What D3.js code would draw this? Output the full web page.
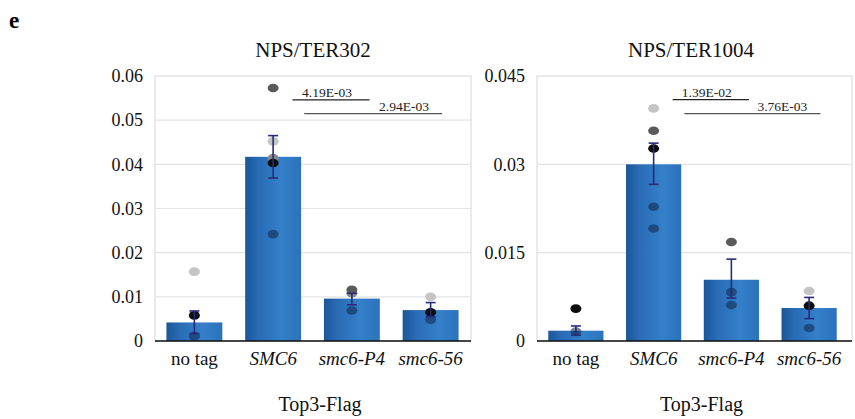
<!DOCTYPE html>
<html>
<head>
<meta charset="utf-8">
<script src="https://cdn.jsdelivr.net/npm/d3@7"></script>
<style>
  body { margin: 0; background: #fff; }
  svg { display: block; }
  svg text { font-family: "Liberation Serif", "Times New Roman", Times, "DejaVu Serif", serif !important; }
</style>
</head>
<body>
<div id="chart"></div>
<script>
// Categories shared by both panels
const categories = ["no tag", "SMC6", "smc6-P4", "smc6-56"];
const italicCats = ["SMC6", "smc6-P4", "smc6-56"];

// NPS/TER302
const ter302Ticks = [0, 0.01, 0.02, 0.03, 0.04, 0.05, 0.06];
const ter302Tick = ["0", "0.01", "0.02", "0.03", "0.04", "0.05", "0.06"];
const ter302Mean = [0.0042, 0.0417, 0.0096, 0.0070];
const ter302ErrLow = [0.0017, 0.0369, 0.0082, 0.0055];
const ter302ErrHigh = [0.0068, 0.0465, 0.0108, 0.0087];
const ter302Points = [
    [0.0157, 0.0058, 0.0011],
    [0.0452, 0.0414, 0.0573, 0.0403, 0.0242],
    [0.0108, 0.0116, 0.0069],
    [0.0100, 0.0065, 0.0048]
];
const ter302Rep = [[0, 3, 4], [0, 1, 2, 3, 4], [1, 2, 4], [0, 3, 4]];
const ter302Pvals = ["4.19E-03", "2.94E-03"];
const ter302PvalY = [0.0546, 0.0515];

// NPS/TER1004
const ter1004Ticks = [0, 0.015, 0.03, 0.045];
const ter1004Tick = ["0", "0.015", "0.03", "0.045"];
const ter1004Mean = [0.00175, 0.0300, 0.0104, 0.0056];
const ter1004ErrLow = [0.00097, 0.0266, 0.0073, 0.0038];
const ter1004ErrHigh = [0.00255, 0.0336, 0.0139, 0.0074];
const ter1004Points = [
    [0.0055, 0.0016],
    [0.0395, 0.0357, 0.0327, 0.0228, 0.0191],
    [0.0168, 0.0083, 0.0061],
    [0.0085, 0.0060, 0.0022]
];
const ter1004Rep = [[3, 4], [0, 2, 3, 4, 4], [2, 4, 4], [0, 3, 4]];
const ter1004Pvals = ["1.39E-02", "3.76E-03"];
const ter1004PvalY = [0.0410, 0.0386];

// comparison brackets: SMC6 vs smc6-P4, SMC6 vs smc6-56
const pvalPairs = [["SMC6", "smc6-P4"], ["SMC6", "smc6-56"]];

// replicate colours (light grey .. black, last one see-through dark)
const repFill = ["#c4c4c4", "#8a8a8a", "#5a5a5a", "#0d0d0d", "#0e2548"];
const repOpacity = [1, 1, 1, 1, 0.55];

const SERIF = "'Liberation Serif', 'Times New Roman', Times, 'DejaVu Serif', serif";
const W = 855, H = 419;
const svg = d3.select("#chart").append("svg")
    .attr("width", W).attr("height", H)
    .style("font-family", SERIF);

const defs = svg.append("defs");
const grad = defs.append("linearGradient")
    .attr("id", "barGrad")
    .attr("x1", "0%").attr("x2", "100%").attr("y1", "0%").attr("y2", "0%");
grad.append("stop").attr("offset", "0%").attr("stop-color", "#1b5799");
grad.append("stop").attr("offset", "25%").attr("stop-color", "#2a6cb6");
grad.append("stop").attr("offset", "65%").attr("stop-color", "#3480c9");
grad.append("stop").attr("offset", "100%").attr("stop-color", "#2c72bd");

svg.append("text")
    .attr("x", 9).attr("y", 28)
    .attr("font-size", "23px").attr("font-weight", "bold")
    .text("e");

function drawPanel(p) {
    const g = svg.append("g");
    const top = 76, bottom = 341;

    const x = d3.scaleBand()
        .domain(categories)
        .range([p.left, p.bandRight])
        .paddingInner(0.29)
        .paddingOuter(0.145);
    const y = d3.scaleLinear().domain([0, p.max]).range([bottom, top]);

    // frame
    g.append("rect")
        .attr("x", p.left).attr("y", top)
        .attr("width", p.right - p.left).attr("height", bottom - top)
        .attr("fill", "none").attr("stroke", "#d6d6d6").attr("stroke-width", 1);

    // gridlines
    g.selectAll(".grid").data(p.ticks.slice(1, -1)).join("line")
        .attr("x1", p.left).attr("x2", p.right)
        .attr("y1", d => y(d)).attr("y2", d => y(d))
        .attr("stroke", "#e4e4e4").attr("stroke-width", 1.2);

    // y axis labels
    const yAxis = d3.axisLeft(y).tickValues(p.ticks)
        .tickFormat((d, i) => p.tickLabels[i]).tickSize(0).tickPadding(12);
    const ya = g.append("g").attr("transform", `translate(${p.left},0)`).call(yAxis)
        .attr("font-family", null);
    ya.select(".domain").remove();
    ya.selectAll("text")
        .style("font-family", SERIF)
        .attr("font-size", "18px").attr("fill", "#111");

    // bars
    g.selectAll(".bar").data(p.mean).join("rect")
        .attr("x", (d, i) => x(categories[i]))
        .attr("y", d => y(d))
        .attr("width", x.bandwidth())
        .attr("height", d => bottom - y(d))
        .attr("fill", "url(#barGrad)");

    // points
    p.points.forEach((vals, i) => {
        const cx = x(categories[i]) + x.bandwidth() / 2;
        g.selectAll(null).data(vals).join("ellipse")
            .attr("cx", cx).attr("cy", d => y(d))
            .attr("rx", 5.5).attr("ry", 4.3)
            .attr("fill", (d, j) => repFill[p.rep[i][j]])
            .attr("fill-opacity", (d, j) => repOpacity[p.rep[i][j]]);
    });

    // error bars
    const eb = g.selectAll(".err").data(p.mean).join("g")
        .attr("stroke", "#272b78").attr("stroke-width", 1.6);
    eb.append("line")
        .attr("x1", (d, i) => x(categories[i]) + x.bandwidth() / 2)
        .attr("x2", (d, i) => x(categories[i]) + x.bandwidth() / 2)
        .attr("y1", (d, i) => y(p.errLow[i]))
        .attr("y2", (d, i) => y(p.errHigh[i]));
    [p.errLow, p.errHigh].forEach(arr => {
        eb.append("line")
            .attr("x1", (d, i) => x(categories[i]) + x.bandwidth() / 2 - 5)
            .attr("x2", (d, i) => x(categories[i]) + x.bandwidth() / 2 + 5)
            .attr("y1", (d, i) => y(arr[i]))
            .attr("y2", (d, i) => y(arr[i]));
    });

    // x axis
    const xAxis = d3.axisBottom(x).tickSize(0).tickPadding(11);
    const xa = g.append("g").attr("transform", `translate(0,${bottom})`).call(xAxis)
        .attr("font-family", null);
    xa.select(".domain").remove();
    xa.selectAll("text")
        .style("font-family", SERIF)
        .attr("font-size", "19px").attr("fill", "#111")
        .attr("font-style", d => italicCats.includes(d) ? "italic" : "normal");
    g.append("line")
        .attr("x1", p.left).attr("x2", p.right)
        .attr("y1", bottom).attr("y2", bottom)
        .attr("stroke", "#111").attr("stroke-width", 1.6);

    // p-value brackets
    const startFrac = [0.6, 0.75], endFrac = [0.58, 0.5];
    const lineCol = ["#222", "#555"];
    pvalPairs.forEach((pair, k) => {
        const x1 = x(pair[0]) + x.step() * startFrac[k];
        const x2 = x(pair[1]) + x.step() * endFrac[k];
        const ly = y(p.pvalY[k]);
        g.append("line")
            .attr("x1", x1).attr("x2", x2).attr("y1", ly).attr("y2", ly)
            .attr("stroke", lineCol[k]).attr("stroke-width", 1.2);
        g.append("text")
            .attr("x", k === 0 ? (x1 + x2) / 2 - 4 : x2 - 38)
            .attr("y", ly - 3)
            .attr("text-anchor", "middle")
            .attr("font-size", "13.5px").attr("fill", "#222")
            .text(p.pvals[k]);
    });

    // title and x-axis title
    g.append("text")
        .attr("x", p.titleX).attr("y", 57)
        .attr("text-anchor", "middle").attr("font-size", "21px").attr("fill", "#111")
        .text(p.title);
    g.append("text")
        .attr("x", (p.left + p.right) / 2 + 7).attr("y", 411)
        .attr("text-anchor", "middle").attr("font-size", "20px").attr("fill", "#111")
        .text("Top3-Flag");
}

drawPanel({
    title: "NPS/TER302", titleX: 313,
    left: 155, right: 471, bandRight: 470, max: 0.06,
    ticks: ter302Ticks, tickLabels: ter302Tick,
    mean: ter302Mean, errLow: ter302ErrLow, errHigh: ter302ErrHigh,
    points: ter302Points, rep: ter302Rep,
    pvals: ter302Pvals, pvalY: ter302PvalY
});

drawPanel({
    title: "NPS/TER1004", titleX: 691,
    left: 537, right: 852, bandRight: 848, max: 0.045,
    ticks: ter1004Ticks, tickLabels: ter1004Tick,
    mean: ter1004Mean, errLow: ter1004ErrLow, errHigh: ter1004ErrHigh,
    points: ter1004Points, rep: ter1004Rep,
    pvals: ter1004Pvals, pvalY: ter1004PvalY
});
</script>
</body>
</html>
